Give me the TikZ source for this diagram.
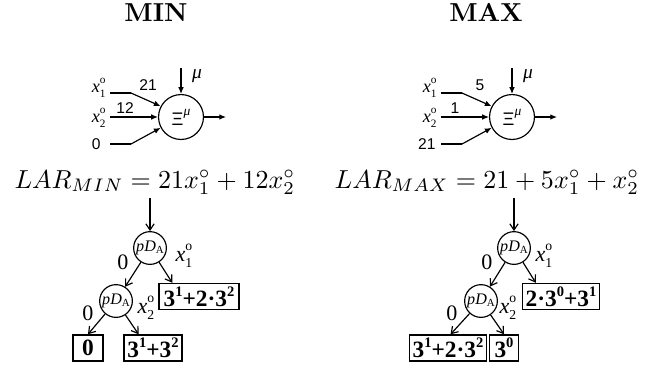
\documentclass[tikz,border=0pt]{standalone}
\usepackage{fontspec}
\usetikzlibrary{arrows.meta}
\newfontfamily\tms{Liberation Serif}
\newfontfamily\arl{Liberation Sans}
% x with superscript o and subscript index, Times style
\newcommand{\xoo}[2]{{\tms\fontsize{#2}{#2}\selectfont\itshape x\makebox[0pt][l]{\smash{\raisebox{0.5em}{\fontsize{0.62\dimexpr#2pt\relax}{1pt}\selectfont\upshape o}}}\smash{\raisebox{-0.28em}{\fontsize{0.62\dimexpr#2pt\relax}{1pt}\selectfont\upshape #1}}}}
\newcommand{\pda}{{\tms\fontsize{6.2}{6.2}\selectfont\itshape pD\raisebox{-0.15em}{\fontsize{4.2}{4.2}\selectfont\upshape A}}}
\newcommand{\bx}[1]{{\tms\bfseries\fontsize{9}{9}\selectfont #1}}
\newcommand{\sx}[1]{\raisebox{0.42em}{\fontsize{5.6}{5.6}\selectfont #1}}
\newcommand{\xim}{{\arl\fontsize{7}{7}\selectfont\raisebox{-0.15em}{Ξ}\raisebox{0.4em}{\tms\itshape\fontsize{5.2}{5.2}\selectfont μ}}}
\begin{document}
\begin{tikzpicture}[x=0.385pt,y=-0.385pt,
  neuron/.style={circle,draw,line width=0.45pt,minimum size=17.3pt,inner sep=0pt},
  treenode/.style={circle,draw,line width=0.45pt,minimum size=12.6pt,inner sep=0pt},
  leaf/.style={draw,line width=0.6pt,inner xsep=1.2pt,minimum height=10pt,inner ysep=0pt},
  narr/.style={line width=0.45pt,-{Latex[length=2.6pt,width=2.2pt]}},
  nline/.style={line width=0.45pt},
  tarr/.style={line width=0.45pt,-{Straight Barb[length=2.4pt,width=3.2pt]}},
  wlab/.style={font=\arl\fontsize{6}{6}\selectfont,inner sep=0pt},
  tlab/.style={font=\tms\fontsize{8.5}{8.5}\selectfont,inner sep=0pt},
  title/.style={font=\bfseries\fontsize{10}{12}\selectfont,inner sep=0pt,anchor=base},
  formula/.style={font=\fontsize{10.3}{12}\selectfont,inner sep=0pt,anchor=base}
]
\useasboundingbox (0,0) rectangle (662,370);

% ---------------- MIN ----------------
\node[title] (tmin) at (156,21) {MIN};
\node[neuron] (nmin) at (181,117) {\xim};
\coordinate (mumin) at (181,68);
\draw[narr] (mumin) -- (nmin.north);
\node[inner sep=0pt,font=\tms\itshape\fontsize{7.5}{7.5}\selectfont] (lmumin) at (197,76) {μ};
\coordinate (outmin) at (226,117);
\draw[narr] (nmin.east) -- (outmin);
\node[anchor=east,inner sep=0pt] (x1min) at (106,88) {\xoo{1}{7}};
\node[anchor=east,inner sep=0pt] (x2min) at (106,118) {\xoo{2}{7}};
\node[wlab,anchor=east] (zmin) at (101,144) {0};
\coordinate (s1min) at (110,93);
\coordinate (b1min) at (131,93);
\coordinate (s2min) at (110,117);
\coordinate (s3min) at (110,144);
\coordinate (b3min) at (131,144);
\draw[nline] (s1min) -- (b1min);
\draw[narr] (b1min) -- (nmin.152);
\draw[narr] (s2min) -- (nmin.west);
\draw[nline] (s3min) -- (b3min);
\draw[narr] (b3min) -- (nmin.208);
\node[wlab] (w1min) at (148,85) {21};
\node[wlab] (w2min) at (125,108) {12};

\node[formula] (fmin) at (155,188) {$LAR_{MIN}=21x_1^\circ+12x_2^\circ$};

\node[treenode] (tmin1) at (150,248) {\pda};
\node[treenode] (tmin2) at (116,301) {\pda};
\coordinate (amin) at (150,198);
\draw[tarr] (amin) -- (tmin1.north);
\node[leaf,minimum width=30.8pt] (bmin1) at (199,296.5) {\bx{3\sx{1}+2·3\sx{2}}};
\node[leaf,minimum width=11.5pt] (bmin2) at (88,348) {\bx{0}};
\node[leaf,minimum width=21.9pt] (bmin3) at (153,348) {\bx{3\sx{1}+3\sx{2}}};
\draw[tarr] (tmin1) -- ([xshift=5.4pt]bmin1.north west);
\draw[tarr] (tmin1) -- (tmin2);
\draw[tarr] (tmin2) -- (bmin2.north);
\draw[tarr] (tmin2) -- ([xshift=5.8pt]bmin3.north west);
\node[tlab] (l0min1) at (123,262) {0};
\node[inner sep=0pt] (lx1min) at (184,256) {\xoo{1}{8.5}};
\node[tlab] (l0min2) at (88,313) {0};
\node[inner sep=0pt] (lx2min) at (146,308) {\xoo{2}{8.5}};

% ---------------- MAX ----------------
\node[title] (tmax) at (486,21) {MAX};
\node[neuron] (nmax) at (512,117) {\xim};
\coordinate (mumax) at (512,68);
\draw[narr] (mumax) -- (nmax.north);
\node[inner sep=0pt,font=\tms\itshape\fontsize{7.5}{7.5}\selectfont] (lmumax) at (528,76) {μ};
\coordinate (outmax) at (557,117);
\draw[narr] (nmax.east) -- (outmax);
\node[anchor=east,inner sep=0pt] (x1max) at (437,88) {\xoo{1}{7}};
\node[anchor=east,inner sep=0pt] (x2max) at (437,118) {\xoo{2}{7}};
\node[wlab,anchor=east] (zmax) at (436,144) {21};
\coordinate (s1max) at (441,93);
\coordinate (b1max) at (462,93);
\coordinate (s2max) at (441,117);
\coordinate (s3max) at (441,144);
\coordinate (b3max) at (462,144);
\draw[nline] (s1max) -- (b1max);
\draw[narr] (b1max) -- (nmax.152);
\draw[narr] (s2max) -- (nmax.west);
\draw[nline] (s3max) -- (b3max);
\draw[narr] (b3max) -- (nmax.208);
\node[wlab] (w1max) at (480,85) {5};
\node[wlab] (w2max) at (455,108) {1};

\node[formula] (fmax) at (487,188) {$LAR_{MAX}=21+5x_1^\circ+x_2^\circ$};

\node[treenode] (tmax1) at (514,248) {\pda};
\node[treenode] (tmax2) at (481,301) {\pda};
\coordinate (amax) at (514,198);
\draw[tarr] (amax) -- (tmax1.north);
\node[leaf,minimum width=28.5pt] (bmax1) at (561,296.5) {\bx{2·3\sx{0}+3\sx{1}}};
\node[leaf,minimum width=27.7pt] (bmax2) at (448,348) {\bx{3\sx{1}+2·3\sx{2}}};
\node[leaf,minimum width=11.2pt] (bmax3) at (504,348) {\bx{3\sx{0}}};
\draw[tarr] (tmax1) -- ([xshift=5.4pt]bmax1.north west);
\draw[tarr] (tmax1) -- (tmax2);
\draw[tarr] (tmax2) -- ([xshift=1pt]bmax2.north);
\draw[tarr] (tmax2) -- (bmax3.north);
\node[tlab] (l0max1) at (487,262) {0};
\node[inner sep=0pt] (lx1max) at (544,256) {\xoo{1}{8.5}};
\node[tlab] (l0max2) at (452,313) {0};
\node[inner sep=0pt] (lx2max) at (508,308) {\xoo{2}{8.5}};
\end{tikzpicture}
\end{document}
